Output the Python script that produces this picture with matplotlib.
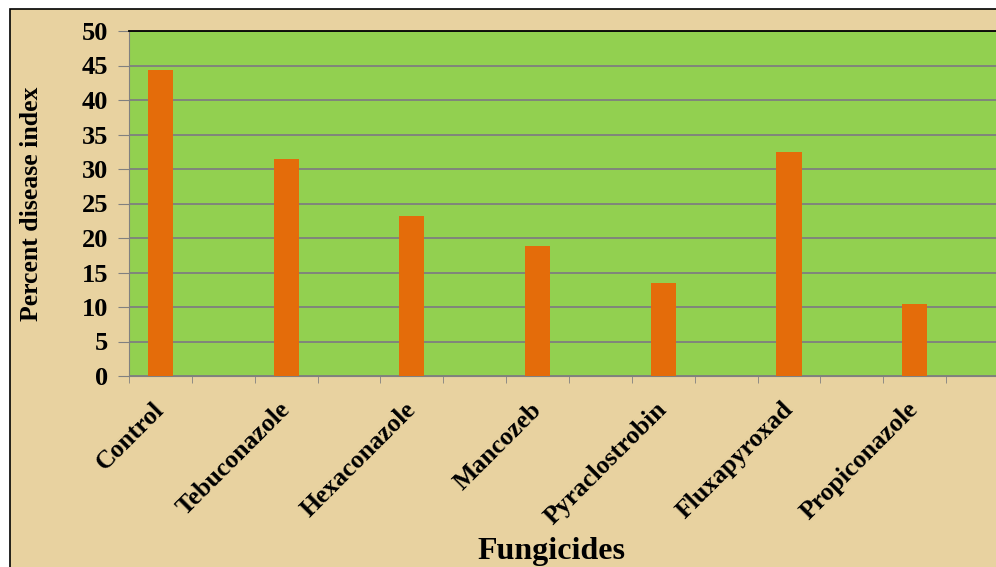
import matplotlib.pyplot as plt
import matplotlib.transforms as mtransforms
from matplotlib.patches import Rectangle
from matplotlib.ticker import FixedLocator, NullFormatter

# データ (空欄カテゴリを交互に挟む)
fungicides = ["Control", "Tebuconazole", "Hexaconazole", "Mancozeb",
              "Pyraclostrobin", "Fluxapyroxad", "Propiconazole"]
pdi = [44.3, 31.4, 23.2, 18.9, 13.5, 32.5, 10.4]
yticks = [0, 5, 10, 15, 20, 25, 30, 35, 40, 45, 50]

plt.rcParams['font.family'] = ['Liberation Serif', 'DejaVu Serif']
plt.rcParams['font.weight'] = 'bold'

parchment = '#E8D2A0'
fig = plt.figure(figsize=(9.96, 5.67), dpi=100)
fig.patch.set_facecolor('white')

# 外枠 (羊皮紙風の背景)
W, H = 996.0, 567.0
fig.patches.append(Rectangle((10 / W, -0.01), 1.0, 1.01 - 9 / H, transform=fig.transFigure,
                             facecolor=parchment, edgecolor='black', linewidth=1.2,
                             zorder=-5))

ax = fig.add_axes([129 / W, 1 - 376 / H, 880 / W, 345 / H])
ax.set_zorder(2)
ax.set_facecolor('#92D050')

pos = [2 * i for i in range(len(fungicides))]
ax.bar(pos, pdi, width=0.4, color='#E46C0A', zorder=3)

ax.set_xlim(-0.5, 2 * len(fungicides) - 0.5)
ax.set_ylim(0, 50)
ax.set_yticks(yticks)
ax.yaxis.grid(True, color='#7F7F7F', linewidth=1.3, zorder=1)
ax.set_axisbelow(True)

# x軸ラベル (回転、少し左下にずらす)
ax.set_xticks([])
ax.xaxis.set_minor_locator(FixedLocator([p - 0.5 for p in range(2 * len(fungicides) + 1)]))
ax.xaxis.set_minor_formatter(NullFormatter())
ax.tick_params(axis='x', which='minor', length=5, color='#808080', direction='out')
shift = mtransforms.ScaledTranslation(-8 / 100, -22 / 100, fig.dpi_scale_trans)
for p, name in zip(pos, fungicides):
    ax.text(p, 0, name, transform=ax.get_xaxis_transform() + shift,
            rotation=45, ha='right', va='top', rotation_mode='anchor',
            fontsize=18.5, fontweight='bold', clip_on=False)

ax.tick_params(axis='y', length=8, color='#808080', labelsize=19, pad=7)
for lbl in ax.get_yticklabels():
    lbl.set_fontweight('bold')

ax.spines['top'].set_color('black')
ax.spines['top'].set_linewidth(1.3)
ax.spines['left'].set_color('#808080')
ax.spines['bottom'].set_color('#808080')
ax.spines['right'].set_visible(False)

fig.text(32 / W, 1 - 204 / H, "Percent disease index", rotation=90,
         ha='center', va='center', fontsize=18.5, fontweight='bold', zorder=3)
fig.text(551 / W, 1 - 551 / H, "Fungicides", ha='center', va='center',
         fontsize=23, fontweight='bold', zorder=3)

fig.savefig('out.png', dpi=100, facecolor=fig.get_facecolor())
